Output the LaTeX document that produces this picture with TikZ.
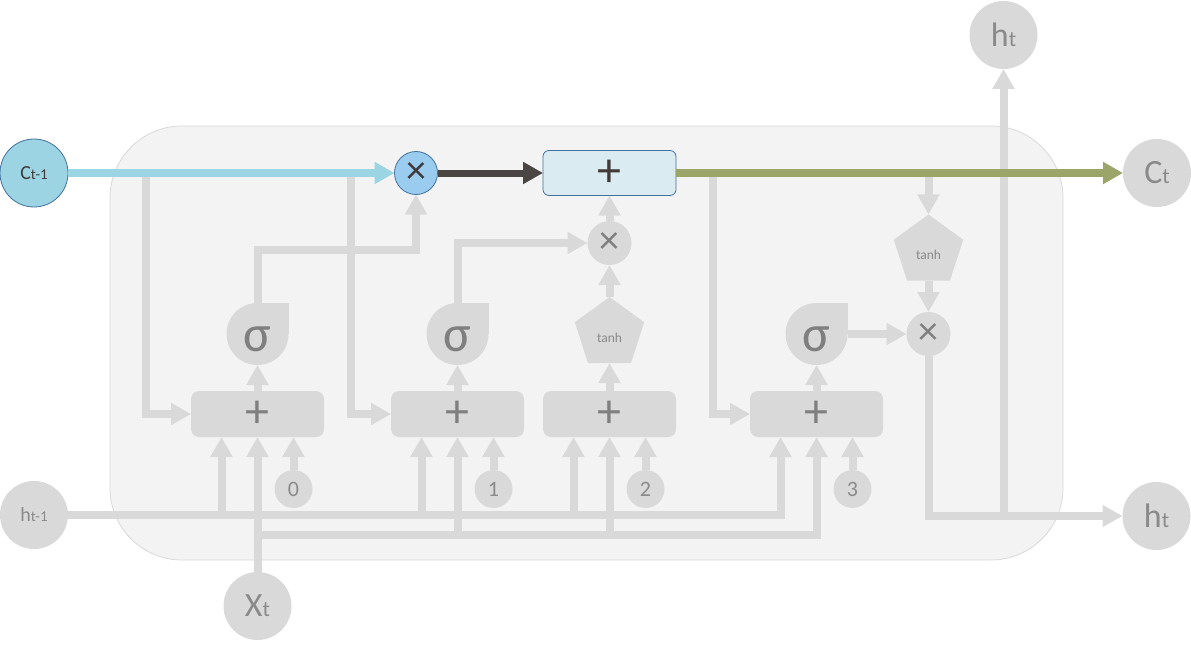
\documentclass[tikz,border=0pt]{standalone}
\usepackage{fontspec}
\setmainfont{Carlito}
\usetikzlibrary{arrows.meta,shapes.geometric}
\definecolor{bgfill}{HTML}{F3F3F3}
\definecolor{bgline}{HTML}{D9D9D9}
\definecolor{gr}{HTML}{D9D9D9}
\definecolor{txtgray}{HTML}{8A8A8A}
\definecolor{symgray}{HTML}{7F7F7F}
\definecolor{cblue}{HTML}{9DD4E3}
\definecolor{bline}{HTML}{9BD4E2}
\definecolor{bborder}{HTML}{41719C}
\definecolor{mulblue}{HTML}{9ACCEF}
\definecolor{darkline}{HTML}{4A4442}
\definecolor{plusfill}{HTML}{DAEBF2}
\definecolor{olive}{HTML}{9BA56A}
\definecolor{darktxt}{HTML}{403B3A}
\newcommand\mysub[2]{{\fontsize{#1}{#1}\selectfont #2}}
\begin{document}
\begin{tikzpicture}[x=1pt,y=-1pt,
  every node/.style={inner sep=0pt, outer sep=0pt},
  conn/.style={draw=gr, line width=8pt},
  arr/.style={-{Triangle[length=20pt,width=21pt]}},
  bg/.style={fill=bgfill, draw=bgline, line width=0.8pt, rounded corners=72pt},
  io/.style={circle, fill=gr, minimum size=68pt, text=txtgray},
  gatebox/.style={rectangle, rounded corners=8pt, fill=gr, minimum width=133pt, minimum height=46pt, text=symgray, font=\fontsize{48}{48}\selectfont},
  sig/.style={circle, fill=gr, minimum size=62pt},
  sigtxt/.style={text=symgray, font=\fontsize{52}{52}\selectfont},
  mulg/.style={circle, fill=gr, minimum size=44pt, text=symgray, font=\fontsize{40}{40}\selectfont},
  pent/.style={regular polygon, regular polygon sides=5, fill=gr, minimum size=73pt},
  penttxt/.style={text=txtgray, font=\fontsize{13.5}{13.5}\selectfont},
  num/.style={circle, fill=gr, minimum size=38pt, text=txtgray, font=\fontsize{22}{22}\selectfont},
  mainline/.style={line width=8pt}
]
\useasboundingbox (0,0) rectangle (1191,650);
\draw[bg] (110,126) rectangle (1063,560);

% outer circles
\node[io, fill=cblue, draw=bborder, line width=0.8pt, text=darktxt] (ct1) at (34,173) {\fontsize{20}{20}\selectfont C\mysub{15}{t-1}};
\node[io] (htm1) at (34,515) {\fontsize{20}{20}\selectfont h\mysub{15}{t-1}};
\node[io] (xt) at (257.5,606) {\fontsize{34}{34}\selectfont X\mysub{22}{t}};
\node[io] (ct) at (1157,173) {\fontsize{34}{34}\selectfont C\mysub{22}{t}};
\node[io] (htt) at (1003.5,35) {\fontsize{34}{34}\selectfont h\mysub{22}{t}};
\node[io] (htr) at (1156.5,516) {\fontsize{34}{34}\selectfont h\mysub{22}{t}};

% cell state ops
\node[circle, minimum size=43pt, fill=mulblue, draw=bborder, line width=0.8pt, text=darktxt, font=\fontsize{40}{40}\selectfont] (mul0) at (416,173) {×};
\node[rectangle, rounded corners=6pt, minimum width=133pt, minimum height=45pt, fill=plusfill, draw=bborder, line width=0.8pt, text=darktxt, font=\fontsize{48}{48}\selectfont] (cplus) at (609.5,173) {+};

% gate boxes
\node[gatebox] (g0) at (257.5,414) {+};
\node[gatebox] (g1) at (457.5,414) {+};
\node[gatebox] (g2) at (609.5,414) {+};
\node[gatebox] (g3) at (816.5,414) {+};

% sigmas
\node[sig] (s0) at (257.5,334) {};
\fill[gr] (s0.center) rectangle (s0.north -| s0.east);
\node[sigtxt] at ([yshift=-5pt]s0.center) {σ};
\node[sig] (s1) at (457.5,334) {};
\fill[gr] (s1.center) rectangle (s1.north -| s1.east);
\node[sigtxt] at ([yshift=-5pt]s1.center) {σ};
\node[sig] (s3) at (816.5,334) {};
\fill[gr] (s3.center) rectangle (s3.north -| s3.east);
\node[sigtxt] at ([yshift=-5pt]s3.center) {σ};

% tanh and multiplications
\node[pent] (p2) at (609.5,333.5) {};
\node[penttxt] at ([yshift=-4pt]p2.center) {tanh};
\node[pent] (p3) at (928.5,251) {};
\node[penttxt] at ([yshift=-4pt]p3.center) {tanh};
\node[mulg] (mul1) at (609.5,243) {×};
\node[mulg] (mul2) at (928.5,334) {×};

% bias numbers
\node[num] (n0) at (293.5,489) {0};
\node[num] (n1) at (493.5,489) {1};
\node[num] (n2) at (645.5,489) {2};
\node[num] (n3) at (852.5,489) {3};

% input anchors
\coordinate (g0a) at ([xshift=-36pt]g0.south);
\coordinate (g1a) at ([xshift=-36pt]g1.south);
\coordinate (g2a) at ([xshift=-36pt]g2.south);
\coordinate (g3a) at ([xshift=-36pt]g3.south);
\coordinate (g0c) at ([xshift=36pt]g0.south);
\coordinate (g1c) at ([xshift=36pt]g1.south);
\coordinate (g2c) at ([xshift=36pt]g2.south);
\coordinate (g3c) at ([xshift=36pt]g3.south);
\coordinate (xb) at (257.5,535);
\coordinate (b0) at (146,173);
\coordinate (b1) at (351,173);
\coordinate (b3) at (713,173);
\coordinate (b4) at (928.5,173);
\coordinate (hj) at (1003.5,516);

% gray connectors
\draw[conn,arr] (b0) |- (g0.west);
\draw[conn,arr] (b1) |- (g1.west);
\draw[conn,arr] (b3) |- (g3.west);
\draw[conn,arr] (b4) -- (p3.north);
\draw[conn,arr] (p3.south) -- (mul2.north);
\draw[conn,arr] (mul2.south) |- (htr.west);
\draw[conn,arr] (hj) -- (htt.south);

\draw[conn,arr] (g0.north) -- (s0.south);
\draw[conn,arr] (g1.north) -- (s1.south);
\draw[conn,arr] (g2.north) -- (p2.south);
\draw[conn,arr] (g3.north) -- (s3.south);
\draw[conn,arr] (s0.north) -- ++(0,-53) -| (mul0.south);
\draw[conn,arr] (s1.north) |- (mul1.west);
\draw[conn,arr] (p2.north) -- (mul1.south);
\draw[conn,arr] (mul1.north) -- (cplus.south);
\draw[conn,arr] (s3.east) -- (mul2.west);

\draw[conn,arr] (htm1.east) -| (g3a);
\draw[conn,arr] (g0a |- htm1.east) -- (g0a);
\draw[conn,arr] (g1a |- htm1.east) -- (g1a);
\draw[conn,arr] (g2a |- htm1.east) -- (g2a);
\draw[conn,arr] (xt.north) -- (g0.south);
\draw[conn,arr] (xb) -| (g3.south);
\draw[conn,arr] (g1.south |- xb) -- (g1.south);
\draw[conn,arr] (g2.south |- xb) -- (g2.south);
\draw[conn,arr] (n0.north) -- (g0c);
\draw[conn,arr] (n1.north) -- (g1c);
\draw[conn,arr] (n2.north) -- (g2c);
\draw[conn,arr] (n3.north) -- (g3c);

% cell state line
\draw[mainline, draw=bline, arr] (ct1) -- (mul0);
\draw[line width=7pt, draw=darkline, arr] (mul0) -- (cplus);
\draw[mainline, draw=olive, arr] (cplus) -- (ct);
\end{tikzpicture}
\end{document}
